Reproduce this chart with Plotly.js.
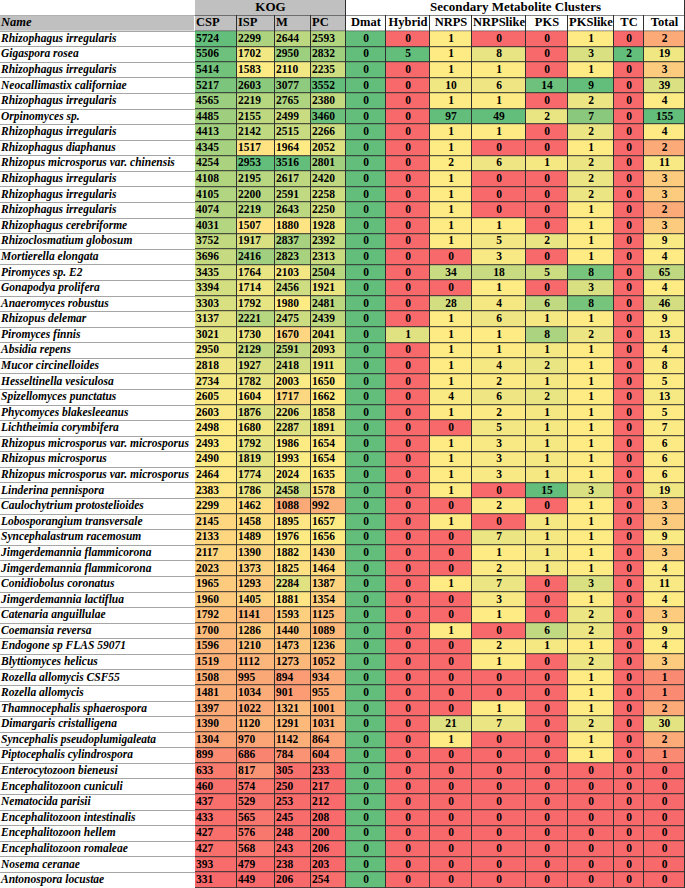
<!DOCTYPE html>
<html>
<head>
<meta charset="utf-8">
<script src="https://cdn.plot.ly/plotly-3.0.1.min.js"></script>
<style>html,body{margin:0;padding:0;background:#fff;}#chart{width:685px;height:888px;}</style>
</head>
<body>
<div id="chart"></div>
<script>
// ---------- data ----------
const names = [
"Rhizophagus irregularis","Gigaspora rosea","Rhizophagus irregularis","Neocallimastix californiae",
"Rhizophagus irregularis","Orpinomyces sp.","Rhizophagus irregularis","Rhizophagus diaphanus",
"Rhizopus microsporus var. chinensis","Rhizophagus irregularis","Rhizophagus irregularis","Rhizophagus irregularis",
"Rhizophagus cerebriforme","Rhizoclosmatium globosum","Mortierella elongata","Piromyces sp. E2",
"Gonapodya prolifera","Anaeromyces robustus","Rhizopus delemar","Piromyces finnis",
"Absidia repens","Mucor circinelloides","Hesseltinella vesiculosa","Spizellomyces punctatus",
"Phycomyces blakesleeanus","Lichtheimia corymbifera","Rhizopus microsporus var. microsporus","Rhizopus microsporus",
"Rhizopus microsporus var. microsporus","Linderina pennispora","Caulochytrium protostelioides","Lobosporangium transversale",
"Syncephalastrum racemosum","Jimgerdemannia flammicorona","Jimgerdemannia flammicorona","Conidiobolus coronatus",
"Jimgerdemannia lactiflua","Catenaria anguillulae","Coemansia reversa","Endogone sp FLAS 59071",
"Blyttiomyces helicus","Rozella allomycis CSF55","Rozella allomycis","Thamnocephalis sphaerospora",
"Dimargaris cristalligena","Syncephalis pseudoplumigaleata","Piptocephalis cylindrospora","Enterocytozoon bieneusi",
"Encephalitozoon cuniculi","Nematocida parisii","Encephalitozoon intestinalis","Encephalitozoon hellem",
"Encephalitozoon romaleae","Nosema ceranae","Antonospora locustae"
];
const csp = [5724,5506,5414,5217,4565,4485,4413,4345,4254,4108,4105,4074,4031,3752,3696,3435,3394,3303,3137,3021,2950,2818,2734,2605,2603,2498,2493,2490,2464,2383,2299,2145,2133,2117,2023,1965,1960,1792,1700,1596,1519,1508,1481,1397,1390,1304,899,633,460,437,433,427,427,393,331];
const isp = [2299,1702,1583,2603,2219,2155,2142,1517,2953,2195,2200,2219,1507,1917,2416,1764,1714,1792,2221,1730,2129,1927,1782,1604,1876,1680,1792,1819,1774,1786,1462,1458,1489,1390,1373,1293,1405,1141,1286,1210,1112,995,1034,1022,1120,970,686,817,574,529,565,576,568,479,449];
const mm = [2644,2950,2110,3077,2765,2499,2515,1964,3516,2617,2591,2643,1880,2837,2823,2103,2456,1980,2475,1670,2591,2418,2003,1717,2206,2287,1986,1993,2024,2458,1088,1895,1976,1882,1825,2284,1881,1593,1440,1473,1273,894,901,1321,1291,1142,784,305,250,253,245,248,243,238,206];
const pc = [2593,2832,2235,3552,2380,3460,2266,2052,2801,2420,2258,2250,1928,2392,2313,2504,1921,2481,2439,2041,2093,1911,1650,1662,1858,1891,1654,1654,1635,1578,992,1657,1656,1430,1464,1387,1354,1125,1089,1236,1052,934,955,1001,1031,864,604,233,217,212,208,200,206,203,254];
const dmat = [0,0,0,0,0,0,0,0,0,0,0,0,0,0,0,0,0,0,0,0,0,0,0,0,0,0,0,0,0,0,0,0,0,0,0,0,0,0,0,0,0,0,0,0,0,0,0,0,0,0,0,0,0,0,0];
const hybrid = [0,5,0,0,0,0,0,0,0,0,0,0,0,0,0,0,0,0,0,1,0,0,0,0,0,0,0,0,0,0,0,0,0,0,0,0,0,0,0,0,0,0,0,0,0,0,0,0,0,0,0,0,0,0,0];
const nrps = [1,1,1,10,1,97,1,1,2,1,1,1,1,1,0,34,0,28,1,1,1,1,1,4,1,0,1,1,1,1,0,1,0,0,0,1,0,0,1,0,0,0,0,0,21,1,0,0,0,0,0,0,0,0,0];
const nrpslike = [0,8,1,6,1,49,1,0,6,0,0,0,1,5,3,18,1,4,6,1,1,4,2,6,2,5,3,3,3,0,2,0,7,1,2,7,3,1,0,2,1,0,0,1,7,0,0,0,0,0,0,0,0,0,0];
const pks = [0,0,0,14,0,2,0,0,1,0,0,0,0,2,0,5,0,6,1,8,1,2,1,2,1,1,1,1,1,15,0,1,1,1,1,0,0,0,6,1,0,0,0,0,0,0,0,0,0,0,0,0,0,0,0];
const pkslike = [1,3,1,9,2,7,2,1,2,2,2,1,1,1,1,8,3,8,1,2,1,1,1,1,1,1,1,1,1,3,1,1,1,1,1,3,1,2,2,1,2,1,1,1,2,1,1,0,0,0,0,0,0,0,0];
const tc = [0,2,0,0,0,0,0,0,0,0,0,0,0,0,0,0,0,0,0,0,0,0,0,0,0,0,0,0,0,0,0,0,0,0,0,0,0,0,0,0,0,0,0,0,0,0,0,0,0,0,0,0,0,0,0];
const total = [2,19,3,39,4,155,4,2,11,3,3,2,3,9,4,65,4,46,9,13,4,8,5,13,5,7,6,6,6,19,3,3,9,3,4,11,4,3,9,4,3,1,1,2,30,2,1,0,0,0,0,0,0,0,0];
const headers = ["Name","CSP","ISP","M","PC","Dmat","Hybrid","NRPS","NRPSlike","PKS","PKSlike","TC","Total"];
const groupHeaders = ["KOG","Secondary Metabolite Clusters"];
const groupSpans = [4, 8];  // number of columns under each group header

// ---------- layout / style ----------
const widths = [195,42,38,36,35,40,44,42,54,42,46,30,41];   // column widths (px)
const leftAligned = [true,true,true,true,true,false,false,false,false,false,false,false,false];
const headerShade = [1,1,1,1,1,0,0,0,0,0,0,0,0];
const groupShade = [1,0];
const W=685, HT=888;
const FONT='Liberation Serif';
const RED='rgb(248,105,107)', YEL='rgb(255,235,132)', GRN='rgb(99,190,123)';

const edges=[0]; widths.forEach(w=>edges.push(edges[edges.length-1]+w));
const totalW=edges[edges.length-1];
const numCols=[csp,isp,mm,pc,dmat,hybrid,nrps,nrpslike,pks,pkslike,tc,total];
const nRows=names.length;

// Excel-style 3-colour scale position (min -> 0, 50th percentile -> 0.5, max -> 1)
function scalePos(arr){
  const s=[...arr].sort((a,b)=>a-b);
  const mn=s[0], mx=s[s.length-1];
  const p=(s.length-1)*0.5, lo=Math.floor(p), hi=Math.ceil(p);
  const mid=s[lo]+(s[hi]-s[lo])*(p-lo);
  return arr.map(v=>{
    if(mx===mn) return 1;
    if(v<=mn) return 0;
    if(v>=mx) return 1;
    if(v<=mid) return 0.5*(v-mn)/(mid-mn);
    return 0.5+0.5*(v-mid)/(mx-mid);
  });
}
const posCols=numCols.map(scalePos);
const rows=[...Array(nRows).keys()];
const zData=rows.map(r=>posCols.map(c=>c[r]));

// text positions
const lx=[], ly=[], lt=[];   // left aligned numbers
const cx=[], cy=[], ct=[];   // centred numbers
numCols.forEach((col,ci)=>{
  const k=ci+1;
  col.forEach((v,r)=>{
    if(leftAligned[k]){ lx.push(edges[k]+1); ly.push(r); lt.push(String(v)); }
    else { cx.push((edges[k]+edges[k+1])/2); cy.push(r); ct.push(String(v)); }
  });
});
const hlx=[],hlt=[],hcx=[],hct=[];
headers.forEach((h,k)=>{
  if(k===0) return;
  if(leftAligned[k]){ hlx.push(edges[k]+1); hlt.push(h); }
  else { hcx.push((edges[k]+edges[k+1])/2); hct.push(h); }
});
const gEdges=[edges[1]]; let gi=1; groupSpans.forEach(n=>{gi+=n; gEdges.push(edges[gi]);});
const gx=groupHeaders.map((g,i)=>(gEdges[i]+gEdges[i+1])/2);

const shadeScale=[[0,'#ffffff'],[1,'#c0c0c0']];
const traces=[
  // group header row
  {type:'heatmap', x:gEdges, y:[-2], z:[groupShade], colorscale:shadeScale, zmin:0, zmax:1, showscale:false,
   xgap:1, ygap:1, hoverinfo:'skip'},
  // column header row
  {type:'heatmap', x:edges, y:[-1], z:[headerShade], colorscale:shadeScale, zmin:0, zmax:1, showscale:false,
   xgap:1, ygap:1, hoverinfo:'skip'},
  // data cells
  {type:'heatmap', x:edges.slice(1), y:rows, z:zData, zmin:0, zmax:1, showscale:false,
   colorscale:[[0,RED],[0.5,YEL],[1,GRN]], xgap:1, ygap:1, hoverinfo:'skip'},
  // names
  {type:'scatter', mode:'text', x:rows.map(()=>1), y:rows, text:names, textposition:'middle right', cliponaxis:false,
   textfont:{family:FONT,size:11.5,color:'#000',weight:'bold',style:'italic'}, hoverinfo:'skip'},
  {type:'scatter', mode:'text', x:[1], y:[-1], text:[headers[0]], textposition:'middle right', cliponaxis:false,
   textfont:{family:FONT,size:12.5,color:'#000',weight:'bold',style:'italic'}, hoverinfo:'skip'},
  // numbers
  {type:'scatter', mode:'text', x:lx, y:ly, text:lt, textposition:'middle right', cliponaxis:false,
   textfont:{family:FONT,size:11.5,color:'#000',weight:'bold'}, hoverinfo:'skip'},
  {type:'scatter', mode:'text', x:cx, y:cy, text:ct, textposition:'middle center', cliponaxis:false,
   textfont:{family:FONT,size:11.5,color:'#000',weight:'bold'}, hoverinfo:'skip'},
  // headers
  {type:'scatter', mode:'text', x:hlx, y:hlx.map(()=>-1), text:hlt, textposition:'middle right', cliponaxis:false,
   textfont:{family:FONT,size:12.5,color:'#000',weight:'bold'}, hoverinfo:'skip'},
  {type:'scatter', mode:'text', x:hcx, y:hcx.map(()=>-1), text:hct, textposition:'middle center', cliponaxis:false,
   textfont:{family:FONT,size:12.5,color:'#000',weight:'bold'}, hoverinfo:'skip'},
  {type:'scatter', mode:'text', x:gx, y:gx.map(()=>-2), text:groupHeaders, textposition:'middle center', cliponaxis:false,
   textfont:{family:FONT,size:13,color:'#000',weight:'bold'}, hoverinfo:'skip'}
];

const layout={
  width:W, height:HT, margin:{l:0,r:0,t:0,b:0}, paper_bgcolor:'#fff', plot_bgcolor:'#fff', showlegend:false,
  xaxis:{range:[0,totalW], visible:false, fixedrange:true},
  yaxis:{range:[nRows-0.5,-2.5], showticklabels:false, ticks:'', zeroline:false, showline:false,
         tickmode:'linear', tick0:-2.5, dtick:1, showgrid:true, gridcolor:'#a6a6a6', gridwidth:1, fixedrange:true},
  shapes:[{type:'rect', layer:'between', xref:'x', yref:'y', x0:edges[1], x1:totalW, y0:-2.5, y1:nRows-0.5,
           fillcolor:'#2f2f2f', line:{width:0}}]
};
Plotly.newPlot('chart', traces, layout, {displayModeBar:false, staticPlot:true});
</script>
</body>
</html>
